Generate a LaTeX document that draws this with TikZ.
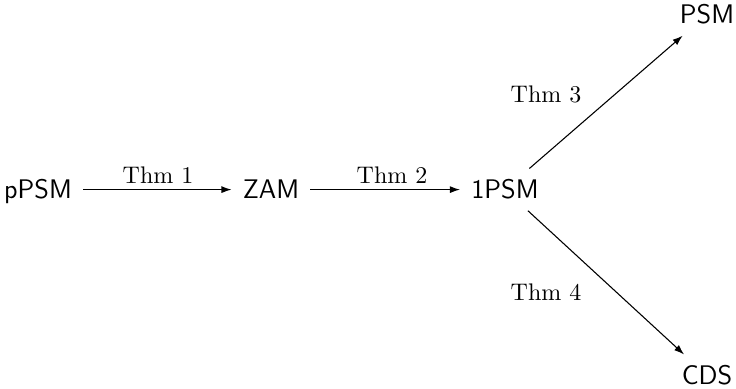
\documentclass[tikz,border=0pt]{standalone}
\usetikzlibrary{arrows.meta}
\begin{document}
\begin{tikzpicture}[x=0.4167pt,y=-0.4167pt,
  obj/.style={font=\sffamily\fontsize{11.2}{13}\selectfont, anchor=base,
    text height=7.6pt, text depth=0.6pt, inner sep=4.5pt},
  thm/.style={font=\normalsize, anchor=base, inner sep=0pt},
  arr/.style={line width=0.45pt, -{Latex[length=4.2pt,width=2.9pt]}}]
  \useasboundingbox (0,0) rectangle (736,388);
  % objects
  \node[obj] (p)   at (38,198)  {pPSM};
  \node[obj] (z)   at (271,198) {ZAM};
  \node[obj] (one) at (505,198) {1PSM};
  \node[obj] (psm) at (707,23)  {PSM};
  \node[obj] (cds) at (707,384) {CDS};
  % implications
  \draw[arr] (p) -- (z);
  \draw[arr] (z) -- (one);
  \draw[arr] (one) -- (psm);
  \draw[arr] (one) -- (cds);
  % labels
  \node[thm] (t1) at (158,183) {Thm 1};
  \node[thm] (t2) at (392,183) {Thm 2};
  \node[thm] (t3) at (546,102) {Thm 3};
  \node[thm] (t4) at (546,300) {Thm 4};
\end{tikzpicture}
\end{document}
